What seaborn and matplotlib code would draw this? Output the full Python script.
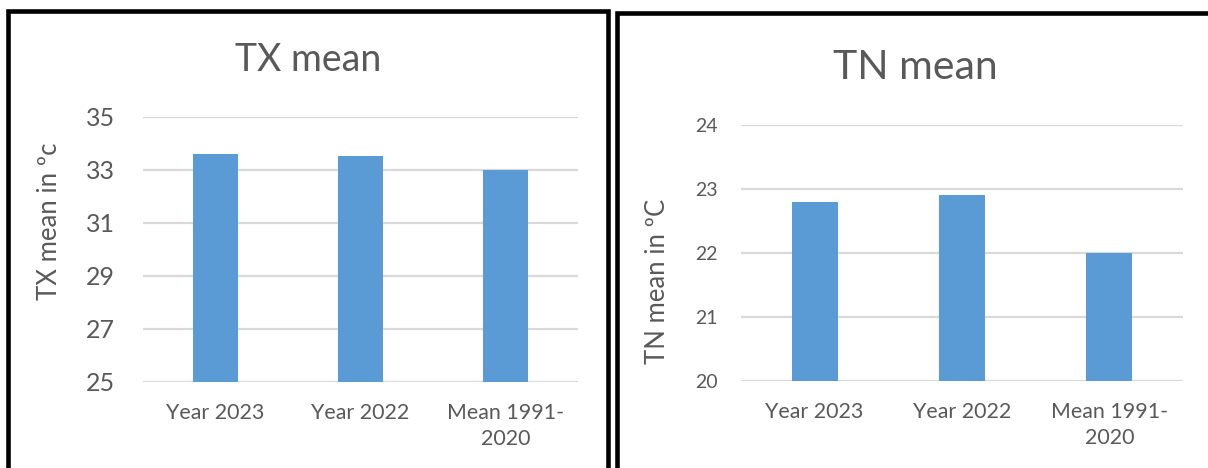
import matplotlib
matplotlib.use("Agg")
import matplotlib.pyplot as plt
from matplotlib.patches import Rectangle
import seaborn as sns
import pandas as pd

# ---- data ----
categories = ["Year 2023", "Year 2022", "Mean 1991-\n2020"]
tx_values = [33.6, 33.5, 33.0]
tn_values = [22.8, 22.9, 22.0]
tx_ticks = [25, 27, 29, 31, 33, 35]
tn_ticks = [20, 21, 22, 23, 24]

sns.set_theme(style="white")
plt.rcParams["font.family"] = ["Lato", "DejaVu Sans"]

TEXT = "#595959"
BAR = "#5B9BD5"
GRID = "#D9D9D9"

W, H = 1208, 468
fig = plt.figure(figsize=(W / 100, H / 100), dpi=100)
fig.patch.set_facecolor("white")


def fx(px):
    return px / W


def fy(py):
    return 1 - py / H


def panel(ax, values, ticks, ylim, ytick_size, ytick_pad):
    df = pd.DataFrame({"cat": categories, "val": values})
    sns.barplot(data=df, x="cat", y="val", order=categories, ax=ax,
                color=BAR, saturation=1, width=0.31, edgecolor="none")
    ax.set_ylim(*ylim)
    ax.set_xlim(-0.5, len(categories) - 0.5)
    ax.set_yticks(ticks)
    ax.set_yticklabels([str(t) for t in ticks])
    ax.yaxis.grid(True, color=GRID, linewidth=1.6)
    ax.xaxis.grid(False)
    ax.set_axisbelow(True)
    for s in ax.spines.values():
        s.set_visible(False)
    ax.tick_params(axis="y", length=0, pad=ytick_pad, labelsize=ytick_size,
                   labelcolor=TEXT)
    ax.tick_params(axis="x", length=0, pad=15, labelsize=15.4,
                   labelcolor=TEXT)
    for lab in ax.get_xticklabels():
        lab.set_multialignment("center")
        lab.set_linespacing(1.4)
    ax.set_xlabel("")
    ax.set_ylabel("")
    ax.set_facecolor("white")


# left panel (TX)
ax1 = fig.add_axes([fx(143), fy(381.7), fx(578 - 143), (381.7 - 116.7) / H])
panel(ax1, tx_values, tx_ticks, (25, 35), 18, 20)

# right panel (TN)
ax2 = fig.add_axes([fx(741), fy(381), fx(1183 - 741), (381 - 125) / H])
panel(ax2, tn_values, tn_ticks, (20, 24), 14, 17)

# titles
fig.text(fx(308), fy(71), "TX mean", ha="center", va="baseline",
         fontsize=27, color=TEXT)
fig.text(fx(915), fy(79), "TN mean", ha="center", va="baseline",
         fontsize=29.5, color=TEXT)

# y labels
fig.text(fx(57), fy(221), "TX mean in ºc", rotation=90, rotation_mode="anchor",
         ha="center", va="baseline", fontsize=18.5, color=TEXT)
fig.text(fx(665), fy(281), "TN mean in ºC", rotation=90, rotation_mode="anchor",
         ha="center", va="baseline", fontsize=18.5, color=TEXT)

# panel borders
lw = 3.3
fig.add_artist(Rectangle((fx(8), -0.2), fx(608 - 8), fy(11.3) + 0.2,
                         transform=fig.transFigure, fill=False,
                         edgecolor="black", linewidth=lw, clip_on=False))
fig.add_artist(Rectangle((fx(617), -0.2), 0.6, fy(13.3) + 0.2,
                         transform=fig.transFigure, fill=False,
                         edgecolor="black", linewidth=lw, clip_on=False))

fig.savefig("out.png", dpi=100, facecolor="white")
